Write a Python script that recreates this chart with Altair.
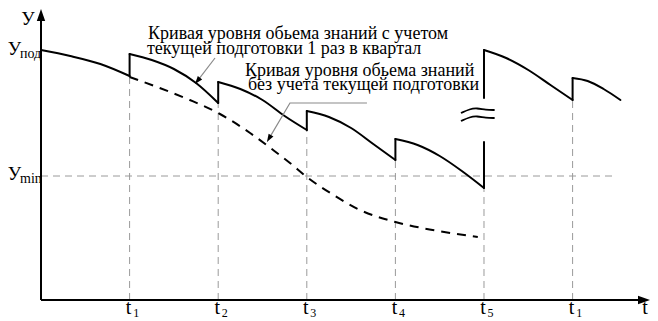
import altair as alt
import pandas as pd

# ---------------- data (t in quarters, level in chart units) ----------------
T_MAX = 6.8736
Y_MAX = 292

tick_t = [1, 2, 3, 4, 5, 6]
tick_sub = ["1", "2", "3", "4", "5", "1"]

y_pod = 250
y_min = 124

# knowledge level with quarterly training (solid), segment by segment
seg_t = [
    [0.0, 0.33, 0.67, 1.0],
    [1.0, 1.25, 1.5, 1.75, 2.0],
    [2.0, 2.25, 2.5, 2.75, 3.0],
    [3.0, 3.25, 3.5, 3.75, 4.0],
    [4.0, 4.25, 4.5, 4.75, 5.0],
    [5.0, 5.25, 5.5, 5.75, 6.0],
    [6.0, 6.17, 6.35, 6.54],
]
seg_y = [
    [250, 244, 236, 224],
    [246, 240, 231, 217, 197],
    [218, 211, 200, 184, 170],
    [189, 183, 172, 156, 140],
    [161, 155, 144, 129, 112],
    [250, 242, 230, 215, 200],
    [222, 219, 211, 200],
]

# vertical jumps (training moments)
jump_t = [1, 2, 3, 4, 5, 5, 6]
jump_lo = [224, 197, 170, 140, 112, 202, 200]
jump_hi = [246, 218, 189, 161, 158, 250, 222]

# drop guides from the time marks up to the curve
guide_top = [224, 197, 170, 140, 112, 200]

# knowledge level without training (dashed)
dash_t = [1.0, 1.34, 1.68, 2.02, 2.36, 2.62, 2.81, 3.0, 3.32, 3.60, 4.0, 4.42, 4.93]
dash_y = [223, 212, 200, 186, 167, 150, 137, 123, 104, 90, 78, 70, 63]

# break sign (two waves)
wave_t = [4.74, 4.84, 4.92, 5.02, 5.12]
wave_up = [187, 191, 192, 190, 190]
wave_dn = [179, 183, 184, 182, 182]

ann1 = ["Кривая уровня обьема знаний с учетом", "текущей подготовки 1 раз в квартал"]
ann2 = ["Кривая уровня обьема знаний", "без учета текущей подготовки"]

# ---------------- helpers ----------------
FONT = "Liberation Serif"
xs = alt.Scale(domain=[0, T_MAX], nice=False, zero=False)
ys = alt.Scale(domain=[0, Y_MAX], nice=False, zero=False)


def X(f="t"):
    return alt.X(f"{f}:Q", scale=xs, axis=None)


def Y(f="y"):
    return alt.Y(f"{f}:Q", scale=ys, axis=None)


def text_layer(rows, size, align="left"):
    df = pd.DataFrame(rows, columns=["t", "y", "txt"])
    return alt.Chart(df).mark_text(
        font=FONT, fontSize=size, align=align, baseline="alphabetic", color="black"
    ).encode(x=X(), y=Y(), text="txt:N")


layers = []

# guides
gdf = pd.DataFrame({"t": tick_t, "y0": [0] * 6, "y1": guide_top})
layers.append(
    alt.Chart(gdf).mark_rule(color="#9a9a9a", strokeWidth=1, strokeDash=[7, 5]).encode(
        x=X(), y=Y("y0"), y2="y1:Q"
    )
)
hdf = pd.DataFrame({"t": [0], "t2": [6.5], "y": [y_min]})
layers.append(
    alt.Chart(hdf).mark_rule(color="#9a9a9a", strokeWidth=1, strokeDash=[7, 5]).encode(
        x=X(), x2="t2:Q", y=Y()
    )
)

# dashed curve
ddf = pd.DataFrame({"t": dash_t, "y": dash_y})
layers.append(
    alt.Chart(ddf).mark_line(color="black", strokeWidth=2, strokeDash=[9, 7], interpolate="monotone").encode(
        x=X(), y=Y()
    )
)

# solid curve
rows = []
for i, (ts, vs) in enumerate(zip(seg_t, seg_y)):
    for j, (a, b) in enumerate(zip(ts, vs)):
        rows.append({"seg": i, "o": j, "t": a, "y": b})
sdf = pd.DataFrame(rows)
layers.append(
    alt.Chart(sdf).mark_line(color="black", strokeWidth=2, interpolate="monotone", strokeCap="round").encode(
        x=X(), y=Y(), detail="seg:N", order="o:Q"
    )
)
jdf = pd.DataFrame({"t": jump_t, "lo": jump_lo, "hi": jump_hi})
layers.append(
    alt.Chart(jdf).mark_rule(color="black", strokeWidth=2, strokeCap="round").encode(
        x=X(), y=Y("lo"), y2="hi:Q"
    )
)

# break sign
wrows = []
for k, arr in enumerate([wave_up, wave_dn]):
    for j, (a, b) in enumerate(zip(wave_t, arr)):
        wrows.append({"w": k, "o": j, "t": a, "y": b})
wdf = pd.DataFrame(wrows)
layers.append(
    alt.Chart(wdf).mark_line(color="black", strokeWidth=1.8, interpolate="basis").encode(
        x=X(), y=Y(), detail="w:N", order="o:Q"
    )
)

# leader lines
ldf = pd.DataFrame({
    "g": [0, 0, 1, 1, 1],
    "o": [0, 1, 0, 1, 2],
    "t": [1.964, 1.766, 3.679, 2.810, 2.573],
    "y": [242, 219.1, 197, 197, 161.4],
})
layers.append(
    alt.Chart(ldf).mark_line(color="#8a8a8a", strokeWidth=1.2).encode(
        x=X(), y=Y(), detail="g:N", order="o:Q"
    )
)

# axes
adf = pd.DataFrame({"t": [0, 0], "t2": [0, 6.76], "y": [0, 0], "y2": [280, 0]})
layers.append(
    alt.Chart(adf).mark_rule(color="black", strokeWidth=2).encode(
        x=X(), x2="t2:Q", y=Y(), y2="y2:Q"
    )
)

# arrow heads
ARROW = "M0,-1L0.7,1L-0.7,1Z"
hdf2 = pd.DataFrame({
    "t": [0, 6.806, 1.766, 2.573],
    "y": [285, 0, 219.1, 161.4],
    "ang": [0, 90, 219, 211],
    "sz": [144, 144, 64, 64],
})
layers.append(
    alt.Chart(hdf2).mark_point(shape=ARROW, filled=True, color="black", opacity=1, strokeWidth=0).encode(
        x=X(), y=Y(),
        angle=alt.Angle("ang:Q", scale=None),
        size=alt.Size("sz:Q", scale=None),
    )
)

# annotations
layers.append(text_layer([[1.208, 261, ann1[0]], [1.196, 246, ann1[1]],
                          [2.302, 224, ann2[0]], [2.336, 210, ann2[1]]], 18))

# axis texts
layers.append(text_layer([[-0.147, 275, "У"]], 19, "center"))
layers.append(text_layer([[-0.375, y_pod - 5, "У"], [-0.375, y_min - 4, "У"]], 19))
layers.append(text_layer([[-0.237, y_pod - 8, "под"], [-0.237, y_min - 7, "min"]], 14))
layers.append(text_layer([[t - 0.011, -14, "t"] for t in tick_t] + [[6.817, -14, "t"]], 20, "center"))
layers.append(text_layer([[t + 0.04, -17, s] for t, s in zip(tick_t, tick_sub)], 12))

chart = alt.layer(*layers).properties(
    width=609,
    height=292,
    padding={"left": 33, "top": 0, "right": 0, "bottom": 21},
    autosize="none",
    background="white",
).configure(font=FONT).configure_text(font=FONT).configure_view(stroke=None)

chart.save("out.html", embed_options={"renderer": "svg", "actions": False})
